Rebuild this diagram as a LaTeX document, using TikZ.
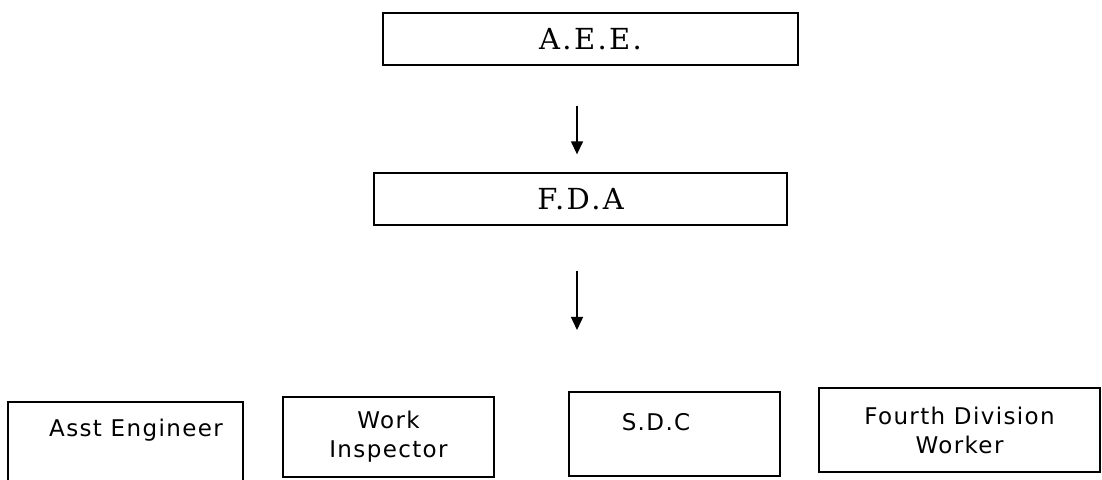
\documentclass[tikz,border=0pt]{standalone}
\usepackage{fontspec}
\setmainfont{DejaVu Sans}
\newfontfamily\headfont[LetterSpace=8]{DejaVu Serif}
\newfontfamily\unitfont[LetterSpace=6]{DejaVu Sans}
\usetikzlibrary{arrows.meta}

\begin{document}
\begin{tikzpicture}[x=0.5pt, y=-0.5pt,
  post/.style={draw, line width=0.65pt, inner sep=0pt, align=center},
  headpost/.style={post, minimum height=26pt, font=\headfont\fontsize{14.5}{17}\selectfont},
  unitpost/.style={post, font=\unitfont\fontsize{11.5}{14.5}\selectfont},
  flow/.style={-{Triangle[width=6pt,length=6.5pt]}, line width=0.7pt}]
  \useasboundingbox (0,0) rectangle (1102,480);

  % Top of the chain
  \node[headpost, minimum width=207.5pt] (aee) at (590.5,39) {A.E.E.};
  \node[headpost, minimum width=206.5pt] (fda) at (580.5,199) {F.D.A};

  % Staff under F.D.A
  \node[unitpost, minimum width=117.5pt, minimum height=42pt, text height=8pt, text depth=15pt] (asst) at (125.5,444) {\hspace*{10.5pt}Asst Engineer};
  \node[unitpost, minimum width=105.5pt, minimum height=40pt] (work) at (388.5,437) {Work\\Inspector};
  \node[unitpost, minimum width=105.5pt, minimum height=42pt, text height=8pt, text depth=12pt] (sdc) at (674.5,434) {S.D.C\hspace*{18.5pt}};
  \node[unitpost, minimum width=140.5pt, minimum height=42pt] (fourth) at (959.5,430) {Fourth Division\\Worker};

  % Arrows
  \coordinate (split) at (577,330);
  \draw[flow, shorten <=20pt, shorten >=9pt] (aee.south -| split) -- (fda.north -| split);
  \draw[flow, shorten <=22.5pt] (fda.south -| split) -- (split);
\end{tikzpicture}
\end{document}
